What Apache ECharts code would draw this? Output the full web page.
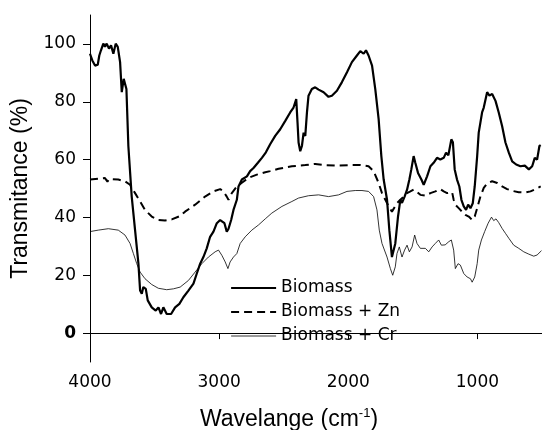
<!DOCTYPE html>
<html>
<head>
<meta charset="utf-8">
<script src="https://cdn.jsdelivr.net/npm/echarts@6/dist/echarts.min.js"></script>
<style>
  html, body { margin: 0; padding: 0; background: #fff; }
  #chart { width: 542px; height: 430px; }
</style>
</head>
<body>
<div id="chart"></div>
<script>
// wavenumber (cm-1) / transmittance (%)
const biomassWn = [4000,3982,3961,3940,3928,3915,3897,3884,3871,3853,3837,3819,3801,3785,3767,3754,3739,3726,3718,3703,3677,3651,3625,3612,3599,3587,3568,3553,3522,3491,3470,3450,3432,3406,3372,3341,3308,3277,3238,3199,3173,3147,3122,3096,3070,3044,3018,2992,2979,2959,2941,2928,2907,2889,2863,2850,2824,2785,2760,2734,2700,2669,2638,2605,2566,2527,2488,2450,2424,2403,2393,2385,2372,2359,2346,2333,2320,2308,2282,2256,2230,2191,2153,2127,2088,2049,2010,1972,1933,1907,1881,1863,1843,1816,1791,1765,1744,1726,1700,1682,1662,1649,1636,1615,1597,1584,1564,1545,1527,1512,1494,1481,1460,1434,1416,1390,1364,1339,1313,1287,1261,1243,1225,1202,1190,1176,1158,1140,1124,1106,1088,1072,1054,1036,1021,1002,990,977,964,951,938,925,907,886,860,835,809,783,757,731,700,667,633,602,576,556,538,520,510];
const biomassT = [96.6,94.3,92.5,92.8,96.0,97.8,100.1,99.0,100.1,98.4,99.5,96.6,100.1,99.0,93.7,83.3,87.9,88.0,84.4,64.7,47.2,35.6,24.0,14.7,13.6,15.9,15.3,11.3,8.9,7.8,8.9,6.6,8.9,6.6,6.6,8.9,10.1,12.4,14.7,17.1,20.6,24.0,26.3,29.3,33.3,35.1,38.0,39.1,39.5,38.0,35.1,36.0,39.1,42.6,46.1,50.7,53.1,54.2,56.0,57.1,58.9,60.6,62.5,65.3,68.2,70.5,73.4,76.3,78.0,80.9,72.8,65.9,62.9,64.7,69.3,68.2,76.3,82.1,84.4,85.0,84.2,83.3,81.7,82.1,83.8,86.8,90.2,93.7,96.0,97.5,96.6,97.8,96.0,92.5,84.4,74.0,61.2,53.1,46.1,35.6,26.3,26.0,31.0,40.3,46.1,45.0,47.2,49.6,53.1,56.6,61.2,58.9,55.4,53.1,51.3,54.2,57.7,58.9,60.6,60.0,60.6,62.4,61.5,67.0,66.0,56.6,53.1,50.7,46.1,43.8,42.6,44.4,43.2,44.9,50.7,61.2,69.3,72.8,76.3,78.0,78.0,83.3,82.1,82.7,80.3,76.3,71.6,65.9,62.4,59.4,58.3,57.7,57.9,56.6,57.7,60.6,60.0,64.7,65.0];

const znWn = [4000,3936,3884,3865,3850,3781,3729,3690,3651,3612,3574,3522,3471,3419,3367,3302,3264,3186,3109,3044,2992,2967,2941,2928,2902,2863,2824,2773,2708,2643,2605,2540,2437,2333,2256,2178,2075,1972,1907,1843,1804,1765,1739,1713,1687,1662,1649,1623,1597,1571,1545,1519,1494,1468,1442,1403,1364,1326,1287,1261,1235,1222,1196,1184,1171,1145,1119,1093,1067,1041,1021,1002,977,951,925,886,847,809,770,731,680,628,589,550,510];
const znT = [53.1,53.4,53.6,52.4,53.3,53.1,52.5,51.3,48.4,45.5,42.6,40.3,39.1,38.9,39.3,40.5,42.0,44.4,47.2,49.0,49.8,49.0,47.2,46.1,48.4,50.7,52.0,53.7,54.8,55.6,56.0,56.8,57.7,58.1,58.5,58.1,57.9,58.1,58.1,57.7,56.0,51.9,48.4,46.1,43.8,42.0,42.6,44.9,46.1,47.2,48.4,49.0,49.6,48.8,47.8,47.5,48.4,49.0,49.8,49.0,48.4,49.0,48.7,46.1,44.4,43.2,42.0,40.9,40.3,39.1,40.3,43.2,47.2,50.2,51.7,52.5,51.9,50.7,49.8,49.2,48.7,48.6,49.0,49.8,50.7];

const crWn = [4000,3936,3858,3781,3729,3690,3664,3638,3612,3574,3522,3471,3406,3354,3302,3289,3238,3186,3134,3083,3031,3005,2979,2953,2932,2915,2889,2863,2837,2798,2747,2695,2643,2592,2514,2437,2385,2308,2230,2153,2075,2010,1946,1894,1843,1804,1778,1760,1739,1700,1674,1656,1636,1623,1605,1584,1564,1545,1527,1506,1486,1468,1442,1403,1377,1351,1326,1300,1279,1250,1222,1202,1184,1171,1150,1132,1106,1080,1054,1041,1021,1002,990,969,944,917,891,874,856,835,809,783,757,719,680,641,602,564,538,504];
const crT = [35.1,35.6,36.1,35.6,33.9,31.0,27.5,24.0,21.1,18.8,16.8,15.5,15.0,15.3,15.9,16.5,18.2,21.1,24.0,26.3,28.1,28.7,26.9,24.6,22.3,24.6,26.3,27.5,31.0,33.3,35.6,37.4,39.5,41.5,43.8,45.5,46.7,47.5,47.8,47.2,47.8,49.0,49.3,49.3,49.0,47.2,42.6,35.6,31.0,26.3,22.3,20.0,22.9,27.5,29.8,26.3,28.7,30.4,28.1,29.8,33.9,31.0,29.3,29.3,28.1,29.8,31.0,32.2,30.4,30.5,31.6,32.2,28.7,22.3,24.0,23.5,20.6,19.4,18.8,17.6,19.4,24.0,28.7,32.2,35.1,38.0,40.1,38.9,39.5,38.2,36.2,34.5,32.8,30.4,29.3,28.1,27.3,26.6,27.0,28.5];

const seriesNames = ['Biomass', 'Biomass + Zn', 'Biomass + Cr'];
const xTicks = [4000, 3000, 2000, 1000];
const yTicks = [0, 20, 40, 60, 80, 100];

const pair = (xs, ys) => xs.map((x, i) => [x, ys[i]]);

const chart = echarts.init(document.getElementById('chart'));
chart.setOption({
    animation: false,
    grid: { left: 90, right: 0, top: 15, bottom: 68, containLabel: false, outerBoundsMode: 'none' },
    legend: {
        orient: 'vertical',
        left: 230,
        top: 279,
        padding: 0,
        itemWidth: 45,
        itemHeight: 14,
        itemGap: 6,
        itemStyle: { opacity: 0 },
        lineStyle: { width: 'inherit' },
        textStyle: { color: '#000', fontSize: 17, fontFamily: 'DejaVu Sans', lineHeight: 18 },
        data: seriesNames
    },
    xAxis: {
        type: 'value',
        inverse: true,
        min: 500,
        max: 4000,
        name: '{a|Wavelange (cm}{s|-1}{a|)}',
        nameLocation: 'middle',
        nameGap: 45,
        nameTextStyle: {
            padding: [0, 54, 0, 0],
            rich: {
                a: { fontSize: 23, fontFamily: 'Liberation Sans', color: '#000', lineHeight: 26 },
                s: { fontSize: 13, fontFamily: 'Liberation Sans', color: '#000', verticalAlign: 'top', lineHeight: 14 }
            }
        },
        axisLine: { lineStyle: { color: '#000', width: 1 } },
        axisTick: { show: true, length: 6, customValues: xTicks, lineStyle: { color: '#000' } },
        axisLabel: {
            color: '#000', fontSize: 17, fontFamily: 'DejaVu Sans', margin: 12,
            customValues: xTicks, formatter: v => String(v)
        },
        splitLine: { show: false }
    },
    yAxis: {
        type: 'value',
        min: -10,
        max: 110,
        name: 'Transmitance (%)',
        nameLocation: 'middle',
        nameGap: 43,
        nameTextStyle: { fontSize: 23, fontFamily: 'Liberation Sans', color: '#000' },
        axisLine: { show: true, lineStyle: { color: '#000', width: 1 } },
        axisTick: { show: true, length: 7, customValues: yTicks, lineStyle: { color: '#000' } },
        axisLabel: {
            color: '#000',
            fontSize: 17,
            fontFamily: 'DejaVu Sans',
            margin: 14,
            customValues: yTicks,
            formatter: v => v === 0 ? '{b|0}' : String(v),
            rich: { b: { fontSize: 17, fontFamily: 'DejaVu Sans', fontWeight: 'bold', color: '#000' } }
        },
        splitLine: { show: false }
    },
    series: [{
        name: seriesNames[0],
        type: 'line',
        symbol: 'none',
        data: pair(biomassWn, biomassT),
        lineStyle: { color: '#000', width: 2.2 },
        itemStyle: { color: '#000' }
    }, {
        name: seriesNames[1],
        type: 'line',
        symbol: 'none',
        data: pair(znWn, znT),
        lineStyle: { color: '#000', width: 2, type: [8, 5] },
        itemStyle: { color: '#000' }
    }, {
        name: seriesNames[2],
        type: 'line',
        symbol: 'none',
        data: pair(crWn, crT),
        lineStyle: { color: '#000', width: 0.8 },
        itemStyle: { color: '#000' }
    }]
});
</script>
</body>
</html>
